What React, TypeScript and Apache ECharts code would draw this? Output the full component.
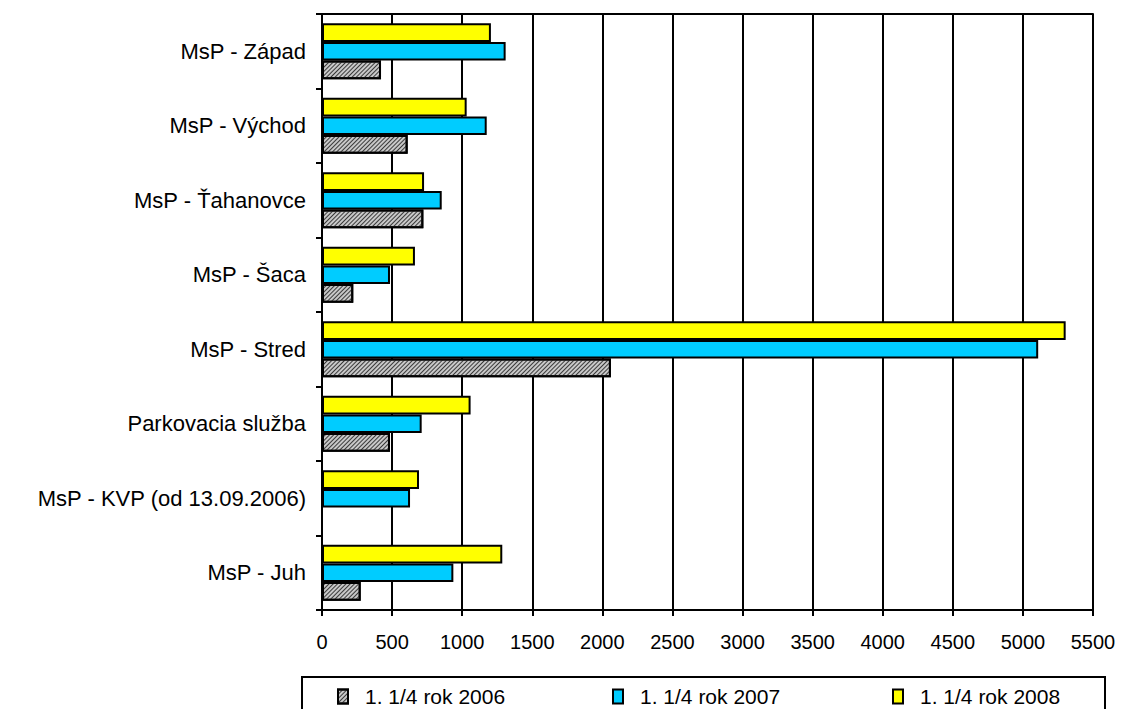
import React, { useEffect, useRef } from "react";
import * as echarts from "echarts";

const categories = [
  "MsP - Západ",
  "MsP - Východ",
  "MsP - Ťahanovce",
  "MsP - Šaca",
  "MsP - Stred",
  "Parkovacia služba",
  "MsP - KVP (od 13.09.2006)",
  "MsP - Juh",
];
const seriesNames = ["1. 1/4 rok 2006", "1. 1/4 rok 2007", "1. 1/4 rok 2008"];
const values2006 = [421, 611, 723, 223, 2061, 485, 0, 276];
const values2007 = [1310, 1175, 854, 485, 5109, 711, 628, 937];
const values2008 = [1205, 1032, 728, 663, 5305, 1060, 692, 1286];
const xTicks = [0, 500, 1000, 1500, 2000, 2500, 3000, 3500, 4000, 4500, 5000, 5500];

const FONT = "Liberation Sans, Arial, sans-serif";

export default function App() {
  const ref = useRef<HTMLDivElement>(null);
  useEffect(() => {
    const chart = echarts.init(ref.current!, undefined, { renderer: "svg" });
    const hatch = {
      symbol: "rect",
      color: "#3a3a3a",
      dashArrayX: [1, 0],
      dashArrayY: [1, 2],
      rotation: -Math.PI / 4,
      symbolSize: 1,
    };
    const barCommon = {
      type: "bar",
      barGap: "0%",
      barCategoryGap: "25%",
    };
    const legendLefts = [337, 612, 892];
    chart.setOption({
      animation: false,
      backgroundColor: "#fff",
      grid: { left: 322, right: 29, top: 14, bottom: 99, containLabel: false },
      xAxis: [
        {
          type: "value",
          min: xTicks[0],
          max: xTicks[xTicks.length - 1],
          interval: 500,
          position: "bottom",
          axisLine: { show: true, lineStyle: { color: "#000", width: 2 } },
          axisTick: { show: true, length: 6, lineStyle: { color: "#000", width: 2 } },
          axisLabel: {
            color: "#000",
            fontSize: 20,
            fontFamily: FONT,
            margin: 22,
            formatter: (v: number) => String(v),
          },
          splitLine: { show: true, lineStyle: { color: "#000", width: 2 } },
        },
        {
          type: "value",
          min: xTicks[0],
          max: xTicks[xTicks.length - 1],
          interval: 500,
          position: "top",
          axisLine: { show: true, lineStyle: { color: "#000", width: 2 } },
          axisTick: { show: false },
          axisLabel: { show: false },
          splitLine: { show: false },
        },
      ],
      yAxis: {
        type: "category",
        inverse: true,
        data: categories,
        axisLine: { show: true, lineStyle: { color: "#000", width: 2 } },
        axisTick: { show: true, length: 6, lineStyle: { color: "#000", width: 2 } },
        axisLabel: { color: "#000", fontSize: 22, fontFamily: FONT, margin: 16 },
      },
      legend: seriesNames.map((name, i) => ({
        left: legendLefts[i],
        top: 686,
        padding: 0,
        itemWidth: 10,
        itemHeight: 14,
        data: [name],
        icon: "rect",
        textStyle: { fontSize: 21, fontFamily: FONT, color: "#000", padding: [0, 0, 0, 12] },
      })),
      graphic: [
        {
          type: "rect",
          shape: { x: 302, y: 677, width: 803, height: 60 },
          style: { fill: "none", stroke: "#000", lineWidth: 2 },
          silent: true,
        },
      ],
      series: [
        {
          ...barCommon,
          name: seriesNames[2],
          data: values2008,
          itemStyle: { color: "#ffff00", borderColor: "#000", borderWidth: 2 },
        },
        {
          ...barCommon,
          name: seriesNames[1],
          data: values2007,
          itemStyle: { color: "#00ccff", borderColor: "#000", borderWidth: 2 },
        },
        {
          ...barCommon,
          name: seriesNames[0],
          data: values2006,
          itemStyle: { color: "#c8c8c8", borderColor: "#000", borderWidth: 2, decal: hatch },
        },
      ],
    });
    return () => chart.dispose();
  }, []);
  return <div ref={ref} style={{ width: 1122, height: 709, position: "absolute", left: 0, top: 0 }} />;
}
